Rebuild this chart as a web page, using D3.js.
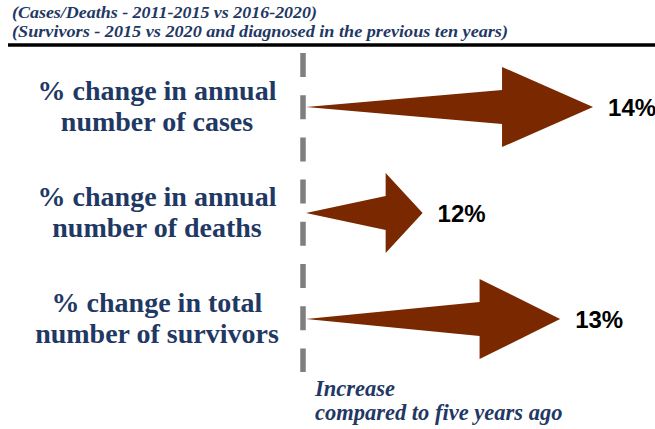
<!DOCTYPE html>
<html>
<head>
<meta charset="utf-8">
<script src="https://cdn.jsdelivr.net/npm/d3@7"></script>
<style>
  body { margin: 0; background: #fff; }
  svg { display: block; }
</style>
</head>
<body>
<svg id="chart" width="655" height="429"></svg>
<script>
// Chart data
const titleLines = ["(Cases/Deaths - 2011-2015 vs 2016-2020)",
                    "(Survivors - 2015 vs 2020 and diagnosed in the previous ten years)"];
const categories = ["cases", "deaths", "survivors"];
const labelLines = [["% change in annual", "number of cases"],
                    ["% change in annual", "number of deaths"],
                    ["% change in total", "number of survivors"]];
const changePct = [14, 12, 13];
// arrow reach as drawn in the infographic (share of the track, not to scale with the %)
const arrowReach = [96, 39, 85];
const footLines = ["Increase", "compared to five years ago"];

const navy = "#1f3864", brown = "#7a2800";

const svg = d3.select("#chart");
const width = +svg.attr("width"), height = +svg.attr("height");

// Title block
svg.append("g")
  .selectAll("text")
  .data(titleLines)
  .join("text")
    .attr("x", 12)
    .attr("y", (d, i) => 18 + i * 19)
    .attr("textLength", (d, i) => i ? 496 : 305)
    .attr("lengthAdjust", "spacingAndGlyphs")
    .style("font", "italic bold 16px 'Liberation Serif', serif")
    .style("fill", navy)
    .text(d => d);

svg.append("line")
  .attr("x1", 8).attr("x2", width)
  .attr("y1", 45).attr("y2", 45)
  .attr("stroke", "#000")
  .attr("stroke-width", 3.5);

// Scales
const x = d3.scaleLinear().domain([0, 100]).range([306, 605]);
const y = d3.scalePoint().domain(categories).range([107, 319]);

// Baseline (dashed)
svg.append("line")
  .attr("x1", 303).attr("x2", 303)
  .attr("y1", 53).attr("y2", 372)
  .attr("stroke", "#7f7f7f")
  .attr("stroke-width", 5.5)
  .attr("stroke-dasharray", "24 18.2");

const rows = categories.map((c, i) => ({
  key: c, lines: labelLines[i], value: changePct[i], reach: arrowReach[i]
}));

// Category labels
svg.append("g")
  .selectAll("text")
  .data(rows)
  .join("text")
    .attr("x", 157)
    .attr("y", d => y(d.key) - 7)
    .attr("text-anchor", "middle")
    .style("font", "bold 28px 'Liberation Serif', serif")
    .style("fill", navy)
    .selectAll("tspan")
    .data(d => d.lines)
    .join("tspan")
      .attr("x", 157)
      .attr("dy", (d, i) => i ? 31 : 0)
      .text(d => d);

// Arrows
function arrowPath(d) {
  const cy = y(d.key), x0 = x(0), tip = x(d.reach);
  const base = x0 + (tip - x0) * 0.683;
  return `M${x0},${cy}L${base},${cy - 17}L${base},${cy - 40}L${tip},${cy}` +
         `L${base},${cy + 40}L${base},${cy + 17}Z`;
}

svg.append("g")
  .selectAll("path")
  .data(rows)
  .join("path")
    .attr("d", arrowPath)
    .attr("fill", brown);

// Value labels
svg.append("g")
  .selectAll("text")
  .data(rows)
  .join("text")
    .attr("x", d => x(d.reach) + 15)
    .attr("y", d => y(d.key) + 9)
    .style("font", "bold 24px 'Liberation Sans', Arial, sans-serif")
    .style("fill", "#000")
    .text(d => d.value + "%");

// Footnote
svg.append("g")
  .selectAll("text")
  .data(footLines)
  .join("text")
    .attr("x", 315)
    .attr("y", (d, i) => 396 + i * 24)
    .style("font", "italic bold 22.5px 'Liberation Serif', serif")
    .style("fill", navy)
    .text(d => d);
</script>
</body>
</html>
